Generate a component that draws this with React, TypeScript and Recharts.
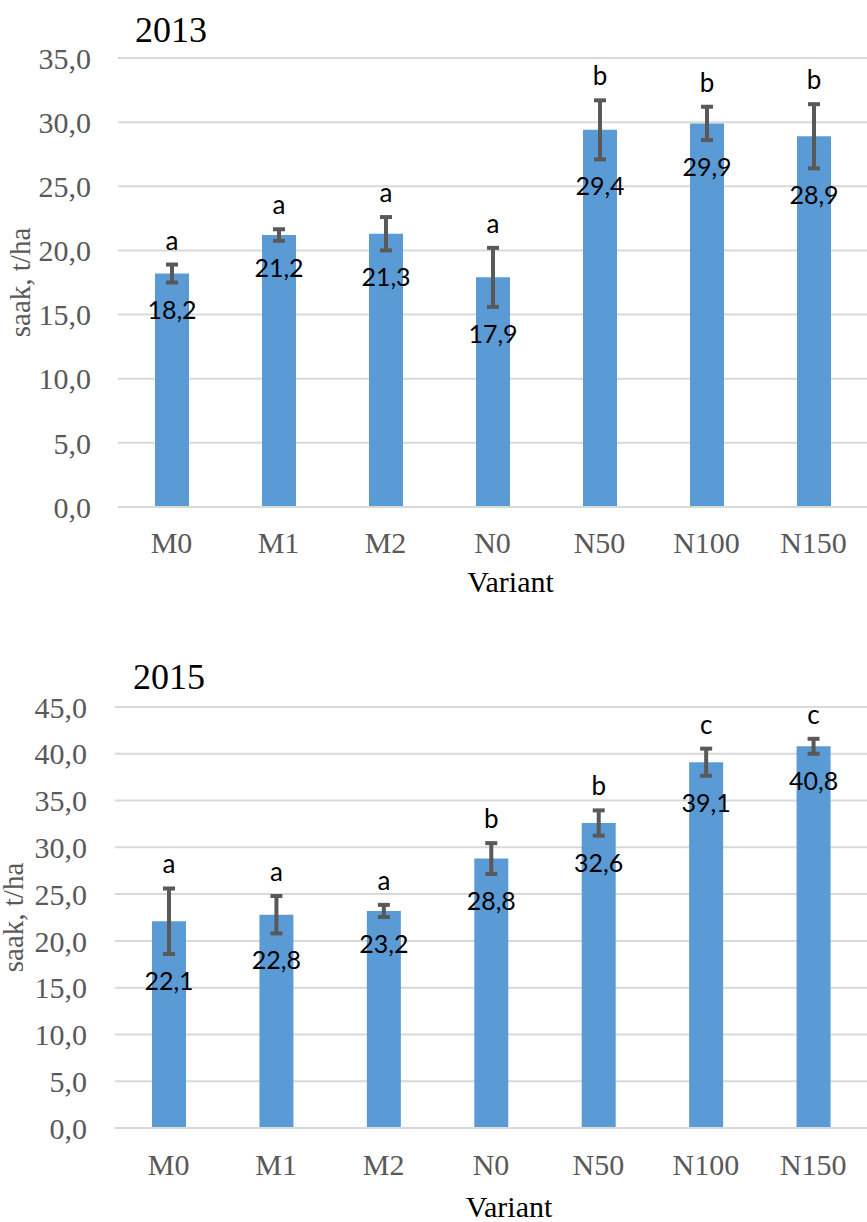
import React from 'react';
import { BarChart, Bar, XAxis, YAxis, CartesianGrid, ErrorBar, LabelList } from 'recharts';

const variants = ['M0', 'M1', 'M2', 'N0', 'N50', 'N100', 'N150'];

const yield2013 = [18.2, 21.2, 21.3, 17.9, 29.4, 29.9, 28.9];
const err2013 = [0.7, 0.45, 1.3, 2.3, 2.3, 1.3, 2.5];
const letters2013 = ['a', 'a', 'a', 'a', 'b', 'b', 'b'];
const ticks2013 = [0, 5, 10, 15, 20, 25, 30, 35];

const yield2015 = [22.1, 22.8, 23.2, 28.8, 32.6, 39.1, 40.8];
const err2015 = [3.5, 2.0, 0.65, 1.65, 1.35, 1.45, 0.8];
const letters2015 = ['a', 'a', 'a', 'b', 'b', 'c', 'c'];
const ticks2015 = [0, 5, 10, 15, 20, 25, 30, 35, 40, 45];

const serif = '"Liberation Serif", "Times New Roman", serif';
const sans = 'Lato, "Open Sans", sans-serif';
const fmt = (v: number) => v.toFixed(1).replace('.', ',');

interface YieldChartProps {
  year: string;
  values: number[];
  errs: number[];
  letters: string[];
  ticks: number[];
  height: number;
  plotTop: number;
  plotBottom: number;
  left: number;
  tickGap: number;
  xTickGap: number;
  titleTop: number;
  titleLeft: number;
  labelX: number;
  labelShift: number;
  variantOffset: number;
}

const YieldChart: React.FC<YieldChartProps> = (p) => {
  const data = variants.map((v, i) => ({ name: v, value: p.values[i], err: p.errs[i] }));

  // value label sits just under the lower whisker
  const renderValue = (props: any) => {
    const { x, y, width, height, index } = props;
    const val = p.values[index];
    const scale = height / val;
    const cy = y + p.errs[index] * scale + 26;
    return (
      <text x={x + width / 2} y={cy} textAnchor="middle" dominantBaseline="central"
        fontFamily={sans} fontSize={25} fill="#000">
        {fmt(val)}
      </text>
    );
  };

  // significance letter above the upper whisker
  const renderLetter = (props: any) => {
    const { x, y, width, height, index } = props;
    const scale = height / p.values[index];
    const cy = y - p.errs[index] * scale - 25;
    return (
      <text x={x + width / 2} y={cy} textAnchor="middle" dominantBaseline="central"
        fontFamily={sans} fontSize={26} fill="#000">
        {p.letters[index]}
      </text>
    );
  };

  return (
    <div style={{ position: 'relative', width: 867, height: p.height }}>
      <div style={{
        position: 'absolute', left: p.titleLeft, top: p.titleTop, fontFamily: serif,
        fontSize: 36, lineHeight: '36px', color: '#000'
      }}>
        {p.year}
      </div>
      <BarChart
        width={867}
        height={p.height}
        data={data}
        margin={{ top: p.plotTop, right: 0, bottom: 0, left: 0 }}
      >
        <CartesianGrid vertical={false} stroke="#d9d9d9" strokeWidth={2} />
        <XAxis
          dataKey="name"
          height={p.height - p.plotBottom}
          tickSize={0}
          tickMargin={p.xTickGap}
          axisLine={{ stroke: '#d9d9d9', strokeWidth: 2 }}
          tick={{ fontFamily: serif, fontSize: 30, fill: '#595959' }}
          label={{
            value: 'Variant', position: 'insideBottom', offset: p.variantOffset, dx: 18,
            style: { fontFamily: serif, fontSize: 30, fill: '#000' }
          }}
        />
        <YAxis
          width={p.left}
          domain={[0, p.ticks[p.ticks.length - 1]]}
          ticks={p.ticks}
          tickFormatter={fmt}
          tickSize={0}
          tickMargin={p.tickGap}
          axisLine={false}
          tick={{ fontFamily: serif, fontSize: 30, fill: '#595959' }}
          label={{
            value: 'saak, t/ha', angle: -90, position: 'insideLeft', offset: p.labelX, dx: p.labelShift,
            style: { textAnchor: 'middle', fontFamily: serif, fontSize: 29, fill: '#595959' }
          }}
        />
        <Bar dataKey="value" fill="#5B9BD5" barSize={34} isAnimationActive={false}>
          <ErrorBar dataKey="err" width={6} strokeWidth={4} stroke="#595959" direction="y" />
          <LabelList dataKey="value" content={renderValue} />
          <LabelList dataKey="value" content={renderLetter} />
        </Bar>
      </BarChart>
    </div>
  );
}

export default function App() {
  return (
    <div style={{ position: 'absolute', left: 0, top: 0, width: 867, height: 1222, background: '#fff' }}>
      <YieldChart
        year="2013" values={yield2013} errs={err2013} letters={letters2013} ticks={ticks2013}
        height={600} plotTop={58} plotBottom={507} left={118} tickGap={27} xTickGap={25}
        titleTop={12} titleLeft={135} labelX={25} labelShift={-5} variantOffset={8}
      />
      <YieldChart
        year="2015" values={yield2015} errs={err2015} letters={letters2015} ticks={ticks2015}
        height={622} plotTop={107} plotBottom={528} left={115} tickGap={28} xTickGap={26}
        titleTop={59} titleLeft={133} labelX={28} labelShift={-15} variantOffset={5}
      />
    </div>
  );
}
